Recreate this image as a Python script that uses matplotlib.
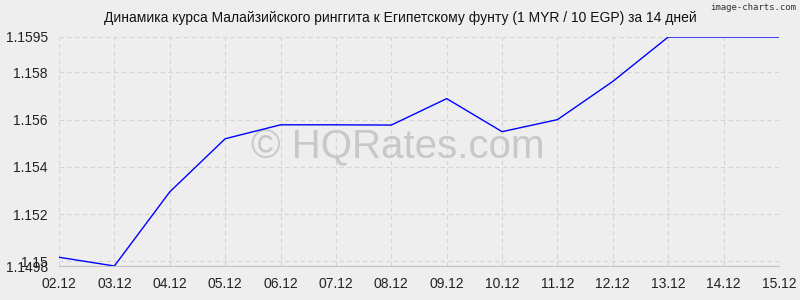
import matplotlib
matplotlib.use("Agg")
import matplotlib.pyplot as plt

# data
dates = ["02.12", "03.12", "04.12", "05.12", "06.12", "07.12", "08.12",
         "09.12", "10.12", "11.12", "12.12", "13.12", "14.12", "15.12"]
rates = [1.15017, 1.1498, 1.15294, 1.15519, 1.15578, 1.15578, 1.15577,
         1.15689, 1.15549, 1.1560, 1.15762, 1.1595, 1.1595, 1.1595]
y_ticks = [1.1498, 1.15, 1.152, 1.154, 1.156, 1.158, 1.1595]
y_labels = ["1.1498", "1.15", "1.152", "1.154", "1.156", "1.158", "1.1595"]
title = "Динамика курса Малайзийского ринггита к Египетскому фунту (1 MYR / 10 EGP) за 14 дней"

plt.rcParams["font.family"] = ["Liberation Sans", "DejaVu Sans"]
bg = "#eeeeee"

fig = plt.figure(figsize=(8, 3), dpi=100, facecolor=bg)
ax = fig.add_axes([59 / 800, 1 - 266 / 300, 720 / 800, 229 / 300])
ax.set_facecolor(bg)

x = list(range(len(dates)))
ax.plot(x, rates, color="#0000ff", linewidth=1, zorder=3)

ax.set_xlim(0, len(dates) - 1)
ax.set_ylim(min(rates), max(rates))
ax.set_xticks(x)
ax.set_xticklabels(dates, fontsize=10)
ax.set_yticks(y_ticks)
ax.set_yticklabels(y_labels, fontsize=10)
ax.tick_params(axis="both", length=0, pad=8, colors="#222222")

ax.grid(True, color="#d4d4d4", linestyle=(0, (4, 3)), linewidth=0.8)
for side in ["top", "right", "left"]:
    ax.spines[side].set_visible(False)
ax.spines["bottom"].set_color("#c4c4c4")
ax.spines["bottom"].set_linewidth(0.8)

# watermark sits behind the line
ax.text(0.47, 0.52, "© HQRates.com", transform=ax.transAxes, ha="center", va="center",
        fontsize=29, color="#c8c8c8", zorder=2)

fig.text(0.5, 1 - 18 / 300, title, ha="center", va="center", fontsize=10, color="#111111")
fig.text(0.995, 1 - 8 / 300, "image-charts.com", ha="right", va="center",
         fontsize=6.5, color="#333333", family="DejaVu Sans Mono")

fig.savefig("out.png", dpi=100, facecolor=bg)
